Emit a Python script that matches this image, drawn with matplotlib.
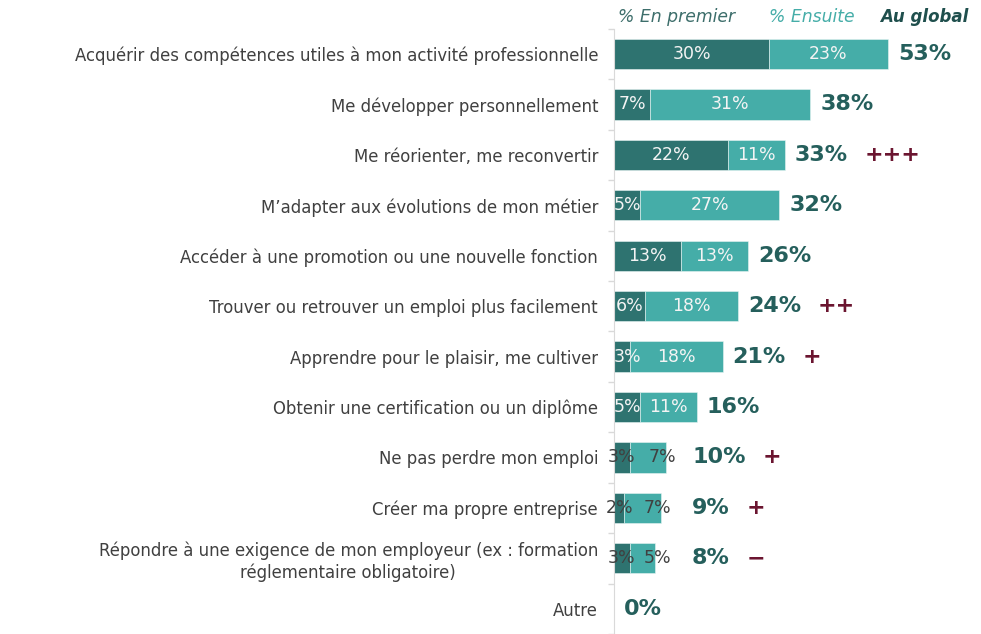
import matplotlib
matplotlib.use("Agg")
import matplotlib.pyplot as plt
import numpy as np

categories = [
    "Acquérir des compétences utiles à mon activité professionnelle",
    "Me développer personnellement",
    "Me réorienter, me reconvertir",
    "M’adapter aux évolutions de mon métier",
    "Accéder à une promotion ou une nouvelle fonction",
    "Trouver ou retrouver un emploi plus facilement",
    "Apprendre pour le plaisir, me cultiver",
    "Obtenir une certification ou un diplôme",
    "Ne pas perdre mon emploi",
    "Créer ma propre entreprise",
    "Répondre à une exigence de mon employeur (ex : formation\nréglementaire obligatoire)",
    "Autre",
]
en_premier = [30, 7, 22, 5, 13, 6, 3, 5, 3, 2, 3, 0]
ensuite = [23, 31, 11, 27, 13, 18, 18, 11, 7, 7, 5, 0]
au_global = [53, 38, 33, 32, 26, 24, 21, 16, 10, 9, 8, 0]
signs = ["", "", "+++", "", "", "++", "+", "", "+", "+", "−", ""]

C_DARK = "#2E7370"
C_LIGHT = "#45ADA8"
C_TOTAL = "#255F5C"
C_SIGN = "#6B1530"
C_TEXT = "#404040"

plt.rcParams["font.family"] = ["DejaVu Sans"]

fig = plt.figure(figsize=(9.81, 6.34), dpi=100)
ax = fig.add_axes([614 / 981, 0.0, 367 / 981, (634 - 28.8) / 634])

y = np.arange(len(categories))
h = 0.6
ax.barh(y, en_premier, height=h, color=C_DARK, edgecolor="#e8f4f3", linewidth=0.4)
ax.barh(y, ensuite, left=en_premier, height=h, color=C_LIGHT, edgecolor="#e8f4f3", linewidth=0.4)

for i in range(len(categories)):
    if au_global[i] == 0:
        continue
    small = au_global[i] <= 10
    col = C_TEXT if small else "#f4f4f4"
    xp = en_premier[i] / 2 if small else max(en_premier[i] / 2, 2.7)
    xe = en_premier[i] + ensuite[i] / 2 + (2.9 if small else 0)
    ax.text(xp, y[i], f"{en_premier[i]}%", ha="center", va="center",
            fontsize=12.5, color=col)
    ax.text(xe, y[i], f"{ensuite[i]}%", ha="center", va="center",
            fontsize=12.5, color=col)

for i in range(len(categories)):
    tot = au_global[i]
    xpos = (max(tot, 13.2) if tot > 0 else tot) + 1.9
    t = ax.text(xpos, y[i], f"{tot}%", ha="left", va="center", fontsize=16,
                fontweight="bold", color=C_TOTAL)
    if signs[i]:
        ax.annotate(signs[i], xy=(1, 0.5), xycoords=t, xytext=(12, 0),
                    textcoords="offset points", ha="left", va="center",
                    fontsize=16, fontweight="bold", color=C_SIGN)

ax.set_xlim(0, 71)
ax.set_ylim(len(categories) - 0.5, -0.5)
ax.set_yticks(y)
ax.set_yticklabels(categories, fontsize=11.9, color=C_TEXT)
for lab in ax.get_yticklabels():
    lab.set_multialignment("center")
ax.tick_params(axis="y", which="major", length=0, pad=11.5)
ax.set_yticks(np.arange(-0.5, len(categories), 1.0), minor=True)
ax.tick_params(axis="y", which="minor", length=4, color="#d9d9d9", width=1)
ax.set_xticks([])
for s in ["top", "right", "bottom"]:
    ax.spines[s].set_visible(False)
ax.spines["left"].set_color("#d9d9d9")

# header
fig.text(677 / 981, 1 - 17 / 634, "% En premier", ha="center", va="center",
         fontsize=12.4, style="italic", color="#3D6E6B")
fig.text(812 / 981, 1 - 17 / 634, "% Ensuite", ha="center", va="center",
         fontsize=12.4, style="italic", color=C_LIGHT)
fig.text(924 / 981, 1 - 17 / 634, "Au global", ha="center", va="center",
         fontsize=12, style="italic", fontweight="bold", color="#1F4F4D")

fig.savefig("out.png", dpi=100)
